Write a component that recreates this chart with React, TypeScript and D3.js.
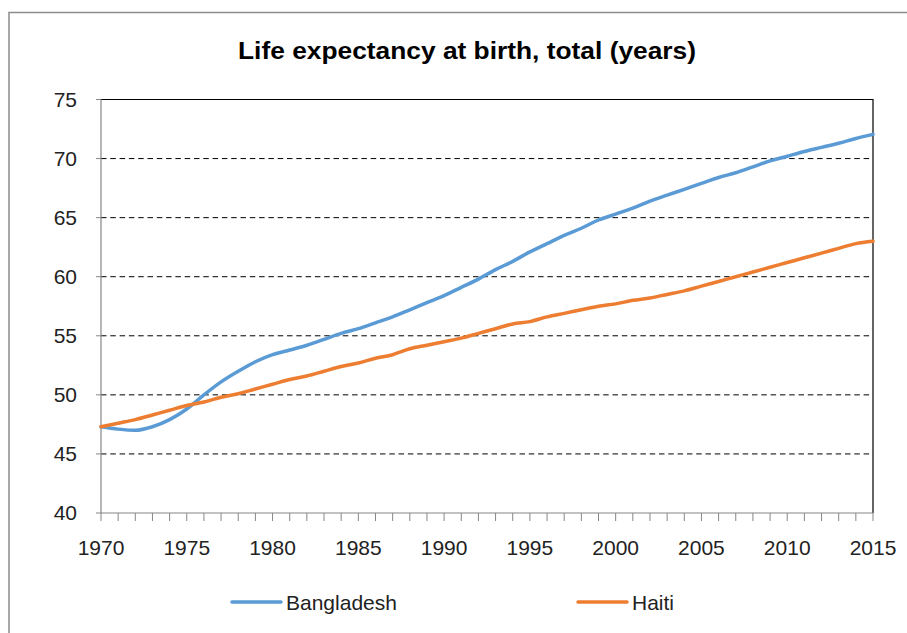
import React from "react";
import * as d3 from "d3";

const years: number[] = d3.range(1970, 2016);
const bangladesh: number[] = [
  47.3, 47.1, 47.0, 47.3, 47.9, 48.8, 50.0, 51.1, 52.0, 52.8,
  53.4, 53.8, 54.2, 54.7, 55.2, 55.6, 56.1, 56.6, 57.2, 57.8,
  58.4, 59.1, 59.8, 60.6, 61.3, 62.1, 62.8, 63.5, 64.1, 64.8,
  65.3, 65.8, 66.4, 66.9, 67.4, 67.9, 68.4, 68.8, 69.3, 69.8,
  70.2, 70.6, 70.95, 71.3, 71.7, 72.05,
];
const haiti: number[] = [
  47.3, 47.6, 47.9, 48.3, 48.7, 49.1, 49.4, 49.8, 50.1, 50.5,
  50.9, 51.3, 51.6, 52.0, 52.4, 52.7, 53.1, 53.4, 53.9, 54.2,
  54.5, 54.8, 55.2, 55.6, 56.0, 56.2, 56.6, 56.9, 57.2, 57.5,
  57.7, 58.0, 58.2, 58.5, 58.8, 59.2, 59.6, 60.0, 60.4, 60.8,
  61.2, 61.6, 62.0, 62.4, 62.8, 63.0,
];
const yTicks: number[] = [40, 45, 50, 55, 60, 65, 70, 75];
const xTickLabels: number[] = [1970, 1975, 1980, 1985, 1990, 1995, 2000, 2005, 2010, 2015];
const seriesNames: string[] = ["Bangladesh", "Haiti"];
const seriesColors: string[] = ["#5B9BD5", "#ED7D31"];
const title = "Life expectancy at birth, total (years)";

const W = 907, H = 633;
const L = 101, R = 873, T = 99.5, B = 513;
const FONT = "'Liberation Sans', Arial, sans-serif";

export default function App() {
  const x = d3.scaleLinear().domain([1970, 2015]).range([L, R]);
  const y = d3.scaleLinear().domain([40, 75]).range([B, T]);
  const line = d3
    .line<number>()
    .x((_, i) => x(years[i]))
    .y((d) => y(d))
    .curve(d3.curveMonotoneX);
  const data = [bangladesh, haiti];
  const legendX = [232, 578];

  return (
    <svg width={W} height={H} style={{ position: "absolute", left: 0, top: 0, background: "#fff" }}>
      {/* outer frame */}
      <path d={`M9,${H} V12.5 H${W}`} fill="none" stroke="#8c8c8c" strokeWidth={1.5} />
      <text x={467} y={59} textAnchor="middle" fontFamily={FONT} fontWeight="bold" fontSize={23}
        textLength={458} lengthAdjust="spacingAndGlyphs" fill="#000">
        {title}
      </text>
      {/* gridlines */}
      {yTicks.filter((t) => t !== 40 && t !== 75).map((t) => (
        <line key={t} x1={L} x2={R} y1={y(t)} y2={y(t)} stroke="#000" strokeWidth={1} strokeDasharray="5.5,3.8" />
      ))}
      {/* top and right border */}
      <path d={`M${L},${y(75)} H${R} V${B}`} fill="none" stroke="#000" strokeWidth={1.2} />
      {/* y axis */}
      <line x1={L} x2={L} y1={T} y2={B} stroke="#868686" strokeWidth={1.2} />
      {yTicks.map((t) => (
        <g key={t}>
          <line x1={L - 5} x2={L} y1={y(t)} y2={y(t)} stroke="#868686" strokeWidth={1} />
          <text x={77} y={y(t)} dy="0.35em" textAnchor="end" fontFamily={FONT} fontSize={21} fill="#222">
            {t}
          </text>
        </g>
      ))}
      {/* x axis */}
      <line x1={L} x2={R} y1={B} y2={B} stroke="#868686" strokeWidth={1.2} />
      {years.map((yr) => (
        <line key={yr} x1={x(yr)} x2={x(yr)} y1={B} y2={B + 8} stroke="#868686" strokeWidth={1} />
      ))}
      {xTickLabels.map((yr) => (
        <text key={yr} x={x(yr)} y={555} textAnchor="middle" fontFamily={FONT} fontSize={21} fill="#222">
          {yr}
        </text>
      ))}
      {/* series */}
      {data.map((d, i) => (
        <path key={i} d={line(d) || ""} fill="none" stroke={seriesColors[i]} strokeWidth={3.5} strokeLinejoin="round" strokeLinecap="round" />
      ))}
      {/* legend */}
      {seriesNames.map((n, i) => (
        <g key={n}>
          <line x1={legendX[i]} x2={legendX[i] + 49} y1={602} y2={602} stroke={seriesColors[i]} strokeWidth={3.5} strokeLinecap="round" />
          <text x={legendX[i] + 54} y={609.5} fontFamily={FONT} fontSize={21} fill="#222">
            {n}
          </text>
        </g>
      ))}
    </svg>
  );
}
